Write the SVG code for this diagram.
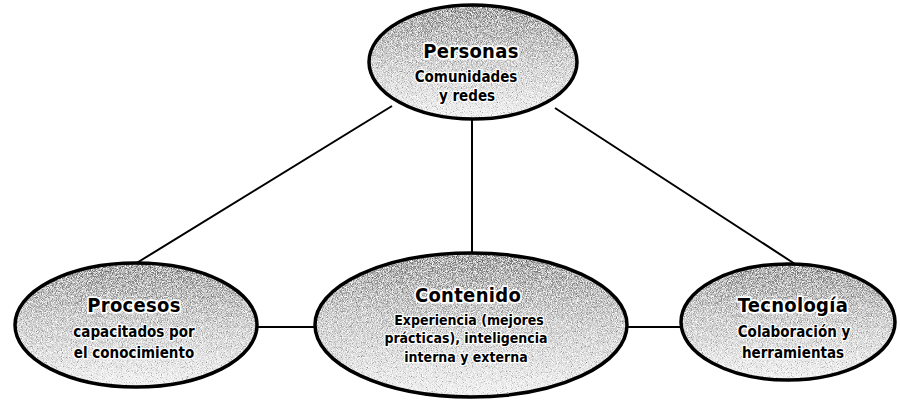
<svg xmlns="http://www.w3.org/2000/svg" width="900" height="403" viewBox="0 0 900 403">
<style>
.fill{stroke:none}
.ring{fill:none;stroke:#000;stroke-width:3.5}
.conn line{stroke:#000;stroke-width:2}
text{font-family:"DejaVu Sans Condensed","DejaVu Sans",sans-serif;font-weight:bold;text-anchor:middle;fill:#000;paint-order:stroke;stroke:#fff;stroke-linejoin:round}
.t{font-size:20px;stroke-width:3.5;letter-spacing:0.3px}
.s{font-size:15px;stroke-width:2.5}
.c{font-size:14px;stroke-width:2.5}
</style>
<defs>
<linearGradient id="g" x1="0" y1="0" x2="0" y2="1">
<stop offset="0" stop-color="#767676"/>
<stop offset="0.45" stop-color="#b8b8b8"/>
<stop offset="1" stop-color="#ececec"/>
</linearGradient>
<filter id="grain" x="0" y="0" width="100%" height="100%">
<feTurbulence type="fractalNoise" baseFrequency="1.2" numOctaves="1" seed="4" result="n"/>
<feColorMatrix in="n" type="matrix" values="0 0 0 0 1  0 0 0 0 1  0 0 0 0 1  -3 0 0 0 1.8" result="w"/>
<feComposite in="w" in2="SourceGraphic" operator="in" result="wd"/>
<feColorMatrix in="n" type="matrix" values="0 0 0 0 0  0 0 0 0 0  0 0 0 0 0  3 0 0 0 -1.8" result="b"/>
<feComposite in="b" in2="SourceGraphic" operator="in" result="bd"/>
<feMerge><feMergeNode in="SourceGraphic"/><feMergeNode in="wd"/><feMergeNode in="bd"/></feMerge>
</filter>
</defs>
<rect width="900" height="403" fill="#fff"/>
<g id="connectors" class="conn">
<line x1="392" y1="106" x2="135" y2="264"/>
<line x1="555" y1="108" x2="795" y2="264"/>
<line x1="472" y1="119" x2="472" y2="253"/>
<line x1="256" y1="327" x2="316" y2="327"/>
<line x1="627" y1="327" x2="681" y2="327"/>
</g>
<g id="personas">
<ellipse class="fill" cx="473" cy="62" rx="104" ry="57" fill="url(#g)" filter="url(#grain)"/>
<ellipse class="ring" cx="473" cy="62" rx="104" ry="57"/>
<text class="t" x="471" y="58">Personas</text>
<text class="s" x="466" y="82">Comunidades</text>
<text class="s" x="467" y="101">y redes</text>
</g>
<g id="procesos">
<ellipse class="fill" cx="136" cy="325" rx="121" ry="62" fill="url(#g)" filter="url(#grain)"/>
<ellipse class="ring" cx="136" cy="325" rx="121" ry="62"/>
<text class="t" x="134" y="312">Procesos</text>
<text class="s" x="134" y="337">capacitados por</text>
<text class="s" x="134" y="358">el conocimiento</text>
</g>
<g id="contenido">
<ellipse class="fill" cx="471" cy="325" rx="156" ry="72" fill="url(#g)" filter="url(#grain)"/>
<ellipse class="ring" cx="471" cy="325" rx="156" ry="72"/>
<text class="t" x="468" y="302">Contenido</text>
<text class="c" x="469" y="325">Experiencia (mejores</text>
<text class="c" x="466" y="343">prácticas), inteligencia</text>
<text class="c" x="466" y="362">interna y externa</text>
</g>
<g id="tecnologia">
<ellipse class="fill" cx="788" cy="322" rx="107" ry="58" fill="url(#g)" filter="url(#grain)"/>
<ellipse class="ring" cx="788" cy="322" rx="107" ry="58"/>
<text class="t" x="793" y="312">Tecnología</text>
<text class="s" x="794" y="337">Colaboración y</text>
<text class="s" x="793" y="358">herramientas</text>
</g>
</svg>
